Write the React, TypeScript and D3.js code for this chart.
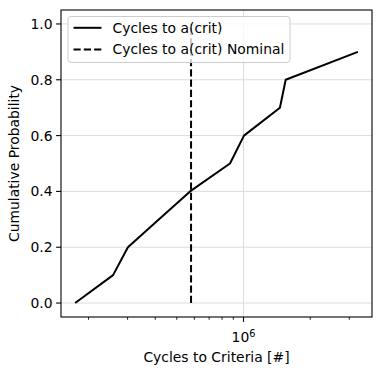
import React from "react";
import * as d3 from "d3";

const cycles = [174000, 258000, 301000, 416000, 574000, 869000, 1005000, 1460000, 1550000, 3280000];
const probability = [0.0, 0.1, 0.2, 0.3, 0.4, 0.5, 0.6, 0.7, 0.8, 0.9];
const nominalCycles = 580000;
const nominalProb = [0.0, 1.0];
const yTicks = [0.0, 0.2, 0.4, 0.6, 0.8, 1.0];
const xMajorTicks = [1e6];
const xMinorTicks = [2e5, 3e5, 4e5, 5e5, 6e5, 7e5, 8e5, 9e5, 2e6, 3e6];
const legendLabels = ["Cycles to a(crit)", "Cycles to a(crit) Nominal"];

const W = 381, H = 375;
const L = 61, R = 372, T = 10, B = 317;
const FS = 13.9;
const FONT = "DejaVu Sans, sans-serif";

export default function App() {
  const lmin = Math.log10(d3.min(cycles)!);
  const lmax = Math.log10(d3.max(cycles)!);
  const pad = (lmax - lmin) * 0.05;
  const x = d3.scaleLog().domain([10 ** (lmin - pad), 10 ** (lmax + pad)]).range([L, R]);
  const y = d3.scaleLinear().domain([-0.05, 1.05]).range([B, T]);
  const line = d3.line<[number, number]>().x(d => x(d[0])).y(d => y(d[1]));
  const mainPts: [number, number][] = cycles.map((c, i) => [c, probability[i]]);
  const nomPts: [number, number][] = nominalProb.map(p => [nominalCycles, p]);
  const dash = "7.2,3.1";
  const grid = "#dcdcdc";
  const LW = 2;

  return (
    <svg width={W} height={H} style={{ position: "absolute", left: 0, top: 0, fontFamily: FONT }}>
      <rect width={W} height={H} fill="#fff" />
      {/* grid */}
      {yTicks.map(t => (
        <line key={"gy" + t} x1={L} x2={R} y1={y(t)} y2={y(t)} stroke={grid} strokeWidth={1} />
      ))}
      {xMajorTicks.map(t => (
        <line key={"gx" + t} x1={x(t)} x2={x(t)} y1={T} y2={B} stroke={grid} strokeWidth={1} />
      ))}
      {/* data */}
      <path d={line(mainPts)!} fill="none" stroke="#000" strokeWidth={LW} strokeLinejoin="round" />
      <path d={line(nomPts)!} fill="none" stroke="#000" strokeWidth={LW} strokeDasharray={dash} />
      {/* spines */}
      <rect x={L} y={T} width={R - L} height={B - T} fill="none" stroke="#000" strokeWidth={1.1} />
      {/* y ticks */}
      {yTicks.map(t => (
        <g key={"yt" + t}>
          <line x1={L - 4.9} x2={L} y1={y(t)} y2={y(t)} stroke="#000" strokeWidth={1.1} />
          <text x={L - 8.5} y={y(t)} dy="0.36em" textAnchor="end" fontSize={FS} fill="#000">
            {t.toFixed(1)}
          </text>
        </g>
      ))}
      {/* x ticks */}
      {xMajorTicks.map(t => (
        <g key={"xt" + t}>
          <line x1={x(t)} x2={x(t)} y1={B} y2={B + 4.9} stroke="#000" strokeWidth={1.1} />
          <text x={x(t)} y={B + 25} textAnchor="middle" fontSize={FS} fill="#000">
            10<tspan fontSize={FS * 0.7} dy={-5}>6</tspan>
          </text>
        </g>
      ))}
      {xMinorTicks.map(t => (
        <line key={"xm" + t} x1={x(t)} x2={x(t)} y1={B} y2={B + 2.8} stroke="#000" strokeWidth={0.85} />
      ))}
      {/* axis labels */}
      <text x={(L + R) / 2} y={362} textAnchor="middle" fontSize={FS} fill="#000">
        Cycles to Criteria [#]
      </text>
      <text transform={`translate(19,${(T + B) / 2}) rotate(-90)`} textAnchor="middle" fontSize={FS} fill="#000">
        Cumulative Probability
      </text>
      {/* legend */}
      <g>
        <rect x={68} y={16.5} width={222} height={46} rx={3} fill="#fff" fillOpacity={0.8} stroke="#cccccc" strokeWidth={1} />
        {legendLabels.map((lab, i) => {
          const cy = 27.8 + i * 21.6;
          return (
            <g key={lab}>
              <line x1={73.5} x2={101.5} y1={cy} y2={cy} stroke="#000" strokeWidth={LW} strokeDasharray={i === 1 ? dash : undefined} />
              <text x={112.5} y={cy} dy="0.36em" fontSize={FS} fill="#000">{lab}</text>
            </g>
          );
        })}
      </g>
    </svg>
  );
}
